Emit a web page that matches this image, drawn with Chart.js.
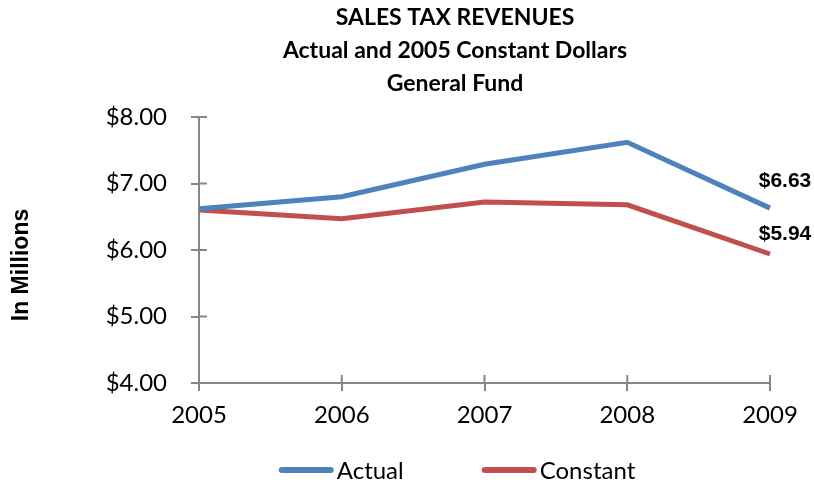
<!DOCTYPE html>
<html>
<head>
<meta charset="utf-8">
<script src="https://cdn.jsdelivr.net/npm/chart.js@4.4.1/dist/chart.umd.min.js"></script>
<style>
  html, body { margin: 0; padding: 0; background: #fff; }
  #wrap { width: 814px; height: 487px; }
</style>
</head>
<body>
<div id="wrap"><canvas id="salesChart" width="814" height="487"></canvas></div>
<script>
const years = ["2005", "2006", "2007", "2008", "2009"];
const actual = [6.62, 6.80, 7.29, 7.62, 6.63];
const constant = [6.60, 6.47, 6.72, 6.68, 5.94];
const titleLines = ["SALES TAX REVENUES", "Actual and 2005 Constant Dollars", "General Fund"];
const yAxisTitle = "In Millions";

const AXIS_GRAY = "#868686";
const TEXT_FONT = "Lato";

// three centered title lines above the plot
const titleBlock = {
    id: "titleBlock",
    afterDraw(chart) {
        const c = chart.ctx;
        c.save();
        c.fillStyle = "#000";
        c.font = "bold 23px " + TEXT_FONT;
        c.textAlign = "center";
        c.textBaseline = "middle";
        const ys = [18, 51, 84];
        titleLines.forEach((t, i) => c.fillText(t, 455, ys[i]));
        // rotated axis caption
        c.translate(22, 265);
        c.rotate(-Math.PI / 2);
        c.font = "bold 23px 'Liberation Sans'";
        c.fillText(yAxisTitle, 0, 0);
        c.restore();
    }
};

// tick marks that also reach into the plot area
const innerTicks = {
    id: "innerTicks",
    afterDraw(chart) {
        const c = chart.ctx;
        const { x, y } = chart.scales;
        const area = chart.chartArea;
        c.save();
        c.strokeStyle = AXIS_GRAY;
        c.lineWidth = 2;
        c.beginPath();
        y.ticks.forEach((t, i) => {
            const py = y.getPixelForTick(i);
            c.moveTo(area.left, py);
            c.lineTo(area.left + 8, py);
        });
        x.ticks.forEach((t, i) => {
            const px = x.getPixelForTick(i);
            c.moveTo(px, area.bottom);
            c.lineTo(px, area.bottom - 8);
        });
        c.stroke();
        c.restore();
    }
};

// bold value label at the last point of each series
const endLabels = {
    id: "endLabels",
    afterDatasetsDraw(chart) {
        const c = chart.ctx;
        c.save();
        c.fillStyle = "#000";
        c.font = "bold 21px 'Liberation Sans'";
        c.textAlign = "center";
        c.textBaseline = "middle";
        chart.data.datasets.forEach((ds, i) => {
            const meta = chart.getDatasetMeta(i);
            const last = meta.data.length - 1;
            const pt = meta.data[last];
            c.fillText("$" + ds.data[last].toFixed(2), pt.x + 15, pt.y + ds.labelOffset);
        });
        c.restore();
    }
};

// legend row: short thick line followed by the series name
const lineLegend = {
    id: "lineLegend",
    afterDraw(chart) {
        const c = chart.ctx;
        const sets = chart.data.datasets;
        const swatch = 55, gapText = 3, gapItem = 78, y = 470;
        c.save();
        c.font = "24px " + TEXT_FONT;
        const widths = sets.map(ds => swatch + gapText + c.measureText(ds.label).width);
        const total = widths.reduce((a, b) => a + b, 0) + gapItem * (sets.length - 1);
        let x = 457 - total / 2;
        sets.forEach((ds, i) => {
            c.strokeStyle = ds.borderColor;
            c.lineWidth = 6;
            c.lineCap = "round";
            c.beginPath();
            c.moveTo(x + 3, y);
            c.lineTo(x + swatch - 3, y);
            c.stroke();
            c.fillStyle = "#000";
            c.textAlign = "left";
            c.textBaseline = "middle";
            c.fillText(ds.label, x + swatch + gapText, y + 1);
            x += widths[i] + gapItem;
        });
        c.restore();
    }
};

new Chart(document.getElementById("salesChart").getContext("2d"), {
    type: "line",
    data: {
        labels: years,
        datasets: [{
            label: "Actual",
            data: actual,
            borderColor: "#4F81BD",
            backgroundColor: "#4F81BD",
            borderWidth: 5,
            pointRadius: 0,
            tension: 0,
            labelOffset: -27
        }, {
            label: "Constant",
            data: constant,
            borderColor: "#C0504D",
            backgroundColor: "#C0504D",
            borderWidth: 5,
            pointRadius: 0,
            tension: 0,
            labelOffset: -20
        }]
    },
    options: {
        responsive: false,
        animation: false,
        layout: { padding: { top: 117, right: 44, left: 0, bottom: 52 } },
        scales: {
            y: {
                min: 4,
                max: 8,
                afterFit(scale) { scale.width = 199; },
                border: { color: AXIS_GRAY, width: 2 },
                grid: { drawOnChartArea: false, color: AXIS_GRAY, lineWidth: 2, tickLength: 8 },
                ticks: {
                    stepSize: 1,
                    color: "#000",
                    padding: 24,
                    font: { family: TEXT_FONT, size: 24 },
                    callback: v => "$" + v.toFixed(2)
                }
            },
            x: {
                offset: false,
                afterFit(scale) { scale.height = 52; },
                border: { color: AXIS_GRAY, width: 2 },
                grid: { drawOnChartArea: false, offset: false, color: AXIS_GRAY, lineWidth: 2, tickLength: 8 },
                ticks: {
                    color: "#000",
                    padding: 10,
                    maxRotation: 0,
                    font: { family: TEXT_FONT, size: 24 }
                }
            }
        },
        plugins: {
            title: { display: false },
            tooltip: { enabled: false },
            legend: { display: false }
        }
    },
    plugins: [titleBlock, innerTicks, endLabels, lineLegend]
});
</script>
</body>
</html>
